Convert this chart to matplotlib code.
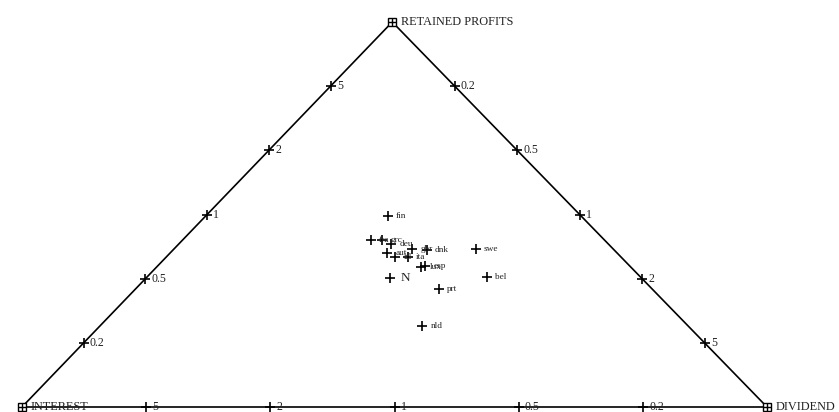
import matplotlib
matplotlib.use("Agg")
import matplotlib.pyplot as plt
import numpy as np

# compositions (interest, retained profits, dividend) per country
countries = ["fin", "fra", "grc", "deu", "aut", "irl", "ita", "gbr", "dnk",
             "swe", "lux", "esp", "bel", "prt", "nld"]
interest = [0.259, 0.314, 0.299, 0.292, 0.308, 0.303, 0.286, 0.270, 0.252,
            0.185, 0.281, 0.275, 0.206, 0.286, 0.357]
retained = [0.496, 0.433, 0.433, 0.423, 0.401, 0.390, 0.390, 0.410, 0.407,
            0.410, 0.364, 0.366, 0.338, 0.307, 0.210]
dividend = [0.244, 0.253, 0.268, 0.285, 0.291, 0.307, 0.324, 0.320, 0.341,
            0.405, 0.355, 0.359, 0.456, 0.407, 0.433]
# overall centre
centre = (0.337, 0.335, 0.328)

parts = ["INTEREST", "RETAINED PROFITS", "DIVIDEND"]
ratios = [5, 2, 1, 0.5, 0.2]

APEX = 0.497  # horizontal position of the top corner


def to_xy(i, r, d):
    i, r, d = np.asarray(i), np.asarray(r), np.asarray(d)
    s = i + r + d
    return (d + APEX * r) / s, r / s


W, H = 839, 412
fig = plt.figure(figsize=(W / 100, H / 100), dpi=100)
ax = fig.add_axes([0, 0, 1, 1])
ax.set_xlim(-22 / 745, (W - 22) / 745)
ax.set_ylim(-5 / 385, (H - 5) / 385)
ax.axis("off")

serif = "Liberation Serif"
pm = dict(marker="+", color="black", ms=7, mew=1.2, ls="none", zorder=3)

# triangle
vx, vy = to_xy([1, 0, 0, 1], [0, 1, 0, 0], [0, 0, 1, 0])
ax.plot(vx, vy, color="black", lw=1.2, zorder=2)
for k, name in enumerate(parts):
    ax.plot(vx[k], vy[k], marker="s", ms=6, mfc="white", mec="black", mew=1.0, zorder=4)
    ax.plot(vx[k], vy[k], marker="+", ms=6, color="black", mew=1.0, zorder=5)
    ax.annotate(name, (vx[k], vy[k]), xytext=(6, 0), textcoords="offset points",
                va="center", ha="left", fontsize=8.8, family=serif, color="#222")

# ratio ticks along each edge: R/I on the left, I/D on the bottom, D/R on the right
for q in ratios:
    t = q / (1 + q)
    edges = [(1 - t, t, 0), (t, 0, 1 - t), (0, 1 - t, t)]
    for comp in edges:
        x, y = to_xy(*comp)
        ax.plot(x, y, **pm)
        ax.annotate(f"{q:g}", (x, y), xytext=(4.5, 0), textcoords="offset points",
                    va="center", ha="left", fontsize=8.5, family=serif, color="#222")

# countries
px, py = to_xy(interest, retained, dividend)
ax.plot(px, py, **pm)
for name, x, y in zip(countries, px, py):
    ax.annotate(name, (x, y), xytext=(6, 0), textcoords="offset points",
                va="center", ha="left", fontsize=6.7, family=serif, color="#222")

cx, cy = to_xy(*centre)
ax.plot(cx, cy, **pm)
ax.annotate("N", (cx, cy), xytext=(7, 0), textcoords="offset points",
            va="center", ha="left", fontsize=9.5, family=serif, color="#222")

fig.savefig("out.png", dpi=100)
